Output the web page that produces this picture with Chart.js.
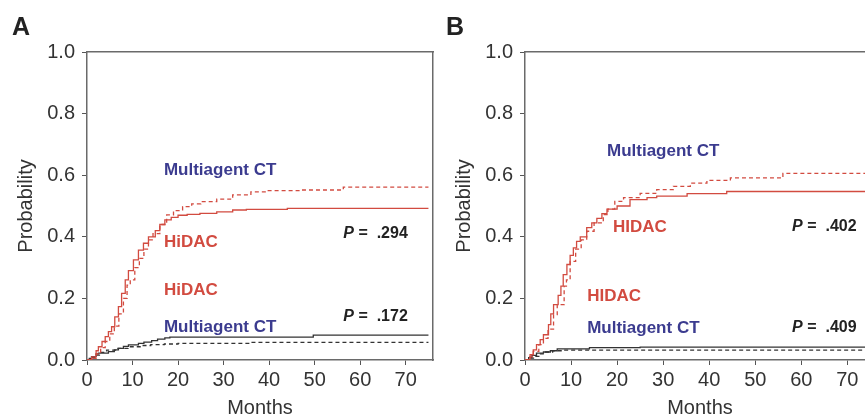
<!DOCTYPE html>
<html>
<head>
<meta charset="utf-8">
<script src="https://cdn.jsdelivr.net/npm/chart.js@4.4.0/dist/chart.umd.min.js"></script>
<style>
  html, body { margin: 0; padding: 0; background: #fff; }
  #wrap { position: relative; width: 865px; height: 420px; overflow: hidden; }
  canvas { position: absolute; top: 0; }
  #chartA { left: 0; }
  #chartB { left: 438px; }
  .panel-letter { position: absolute; top: 14px; font: bold 25px "Liberation Sans", Arial, sans-serif; line-height: 1; color: #222; }
</style>
</head>
<body>
<div id="wrap">
  <canvas id="chartA" width="440" height="420"></canvas>
  <canvas id="chartB" width="444" height="420"></canvas>
  <div class="panel-letter" style="left:12px">A</div>
  <div class="panel-letter" style="left:446px">B</div>
</div>
<script>
// axis ticks
const monthTicks = [0, 10, 20, 30, 40, 50, 60, 70];
const probTicks = [0, 0.2, 0.4, 0.6, 0.8, 1.0];

// panel A - [month, probability]
const aUpperHidac = [[0,0],[1,0.01],[2,0.03],[2.5,0.043],[3.3,0.06],[4,0.076],[4.7,0.092],[5.4,0.108],[6.1,0.14],[6.9,0.173],[7.6,0.216],[8.4,0.26],[9.1,0.29],[10.2,0.325],[11.3,0.357],[12.4,0.379],[13.5,0.4],[15,0.42],[16,0.44],[17.1,0.455],[18.5,0.463],[20,0.47],[22,0.473],[24.8,0.476],[28.5,0.481],[32,0.487],[35,0.489],[44,0.4925],[75,0.4925]];
const aUpperMulti = [[0,0],[1,0.005],[2,0.02],[3,0.04],[4,0.06],[5,0.085],[6,0.11],[7,0.15],[8,0.2],[8.8,0.243],[9.5,0.26],[10.5,0.3],[11.5,0.33],[12.5,0.36],[13.5,0.39],[14.5,0.41],[16,0.44],[17.5,0.471],[19,0.485],[21,0.498],[23,0.507],[25,0.514],[28.5,0.522],[32,0.536],[36,0.546],[39.5,0.55],[47,0.552],[56.3,0.561],[75,0.561]];
const aLowerMulti = [[0,0],[0.5,0.005],[1,0.011],[2,0.02],[2.5,0.022],[4.7,0.027],[6,0.033],[6.9,0.038],[8,0.044],[9.1,0.049],[11.3,0.054],[12.5,0.058],[14.2,0.063],[15.5,0.068],[17.1,0.072],[18.2,0.074],[49.7,0.081],[75,0.081]];
const aLowerHidac = [[0,0],[1,0.008],[2,0.016],[3,0.025],[4.3,0.032],[6.5,0.038],[9,0.043],[12,0.047],[14,0.05],[17,0.052],[20,0.054],[35.8,0.057],[75,0.057]];

// panel B
const bUpperHidac = [[0,0],[1.1,0.017],[1.8,0.033],[2.5,0.05],[3.3,0.066],[4,0.082],[5.1,0.115],[5.6,0.15],[6.2,0.18],[7.2,0.21],[7.8,0.24],[8.3,0.277],[9.1,0.31],[9.8,0.34],[10.5,0.364],[11.2,0.385],[12,0.4],[13.4,0.43],[14.5,0.445],[15.6,0.46],[16.7,0.475],[17.8,0.49],[20,0.5],[22.8,0.521],[26.5,0.527],[28.6,0.532],[35.2,0.54],[43.8,0.547],[76,0.547]];
const bUpperMulti = [[0,0],[1,0.01],[1.8,0.028],[3,0.05],[4,0.07],[5,0.1],[6.2,0.147],[7,0.18],[8.5,0.24],[9,0.26],[9.8,0.32],[11,0.36],[12.2,0.39],[13.4,0.418],[15,0.445],[17,0.472],[18,0.49],[19.5,0.515],[21.4,0.527],[25,0.541],[28.6,0.553],[32.2,0.564],[35.9,0.574],[39.5,0.583],[44.6,0.591],[56,0.606],[76,0.606]];
const bLowerMulti = [[0,0],[0.8,0.008],[1.5,0.015],[2.5,0.022],[4,0.026],[5.5,0.03],[7,0.036],[14,0.04],[25,0.042],[76,0.042]];
const bLowerHidac = [[0,0],[1,0.006],[2,0.012],[3,0.02],[4.5,0.026],[6,0.03],[8,0.032],[76,0.032]];

// text labels: [month, probability, text, kind]
const aNotes = [[16.9,0.617,'Multiagent CT','multi'],[16.9,0.383,'HiDAC','hidac'],[56.3,0.409,'.294','p'],[16.9,0.227,'HiDAC','hidac'],[16.9,0.107,'Multiagent CT','multi'],[56.3,0.14,'.172','p']];
const bNotes = [[17.8,0.679,'Multiagent CT','multi'],[19.1,0.432,'HIDAC','hidac'],[58,0.432,'.402','p'],[13.5,0.208,'HIDAC','hidac'],[13.5,0.104,'Multiagent CT','multi'],[58,0.104,'.409','p']];

const RED = '#d24b40';
const DARK = '#333333';
const NAVY = '#3b3b8f';
const FONT = '"Liberation Sans", Arial, Helvetica, sans-serif';

document.addEventListener('DOMContentLoaded', () => {

    function toXY(pairs) {
        return pairs.map(p => ({ x: p[0], y: p[1] }));
    }

    function line(pairs, color, dashed) {
        return {
            data: toXY(pairs),
            borderColor: color,
            borderWidth: 1.3,
            borderDash: dashed ? [4, 3] : [],
            stepped: true,
            pointRadius: 0,
            fill: false
        };
    }

    // writes the in-plot labels at data positions
    function notesPlugin(notes) {
        return {
            id: 'notes',
            afterDatasetsDraw(chart) {
                const ctx = chart.ctx;
                const xs = chart.scales.x;
                const ys = chart.scales.y;
                ctx.save();
                ctx.textAlign = 'left';
                ctx.textBaseline = 'middle';
                notes.forEach(n => {
                    let px = xs.getPixelForValue(n[0]);
                    const py = ys.getPixelForValue(n[1]);
                    if (n[3] === 'p') {
                        ctx.fillStyle = '#222';
                        ctx.font = 'italic bold 16px ' + FONT;
                        ctx.fillText('P', px, py);
                        px += ctx.measureText('P').width;
                        ctx.font = 'bold 16px ' + FONT;
                        ctx.fillText(' =  ' + n[2], px, py);
                    } else {
                        ctx.fillStyle = n[3] === 'multi' ? NAVY : RED;
                        ctx.font = 'bold 17px ' + FONT;
                        ctx.fillText(n[2], px, py);
                    }
                });
                ctx.restore();
            }
        };
    }

    function makeChart(id, series, notes) {
        const ctx = document.getElementById(id).getContext('2d');
        const tickFont = { family: FONT, size: 20 };
        const edge = { display: true, color: '#6a6a6a', width: 1.5 };
        new Chart(ctx, {
            type: 'line',
            data: {
                datasets: [
                    line(series[0], RED, false),
                    line(series[1], RED, true),
                    line(series[2], DARK, false),
                    line(series[3], DARK, true)
                ]
            },
            options: {
                responsive: false,
                animation: false,
                devicePixelRatio: 1,
                layout: { padding: { left: 0, top: 52, right: 7, bottom: 0 } },
                plugins: { legend: { display: false }, tooltip: { enabled: false } },
                scales: {
                    x: {
                        type: 'linear', position: 'bottom', min: 0, max: 76,
                        afterBuildTicks: s => { s.ticks = monthTicks.map(v => ({ value: v })); },
                        afterFit: s => { s.height = 60; },
                        ticks: { font: tickFont, color: DARK, padding: 3, maxRotation: 0 },
                        grid: { drawOnChartArea: false, drawTicks: true, tickLength: 5, color: '#555' },
                        border: edge,
                        title: { display: true, text: 'Months', font: tickFont, color: DARK, padding: { top: 0, bottom: 0 } }
                    },
                    y: {
                        type: 'linear', position: 'left', min: 0, max: 1,
                        afterBuildTicks: s => { s.ticks = probTicks.map(v => ({ value: v })); },
                        afterFit: s => { s.width = 87; },
                        ticks: { font: tickFont, color: DARK, padding: 7, callback: v => v.toFixed(1) },
                        grid: { drawOnChartArea: false, drawTicks: true, tickLength: 5, color: '#555' },
                        border: edge,
                        title: { display: true, text: 'Probability', font: tickFont, color: DARK, padding: { top: 14, bottom: 0 } }
                    },
                    xTop: {
                        type: 'linear', position: 'top', min: 0, max: 76,
                        afterFit: s => { s.height = 0; },
                        ticks: { display: false },
                        grid: { display: false },
                        border: edge
                    },
                    yRight: {
                        type: 'linear', position: 'right', min: 0, max: 1,
                        afterFit: s => { s.width = 0; },
                        ticks: { display: false },
                        grid: { display: false },
                        border: edge
                    }
                }
            },
            plugins: [notesPlugin(notes)]
        });
    }

    makeChart('chartA', [aUpperHidac, aUpperMulti, aLowerMulti, aLowerHidac], aNotes);
    makeChart('chartB', [bUpperHidac, bUpperMulti, bLowerMulti, bLowerHidac], bNotes);
});
</script>
</body>
</html>
